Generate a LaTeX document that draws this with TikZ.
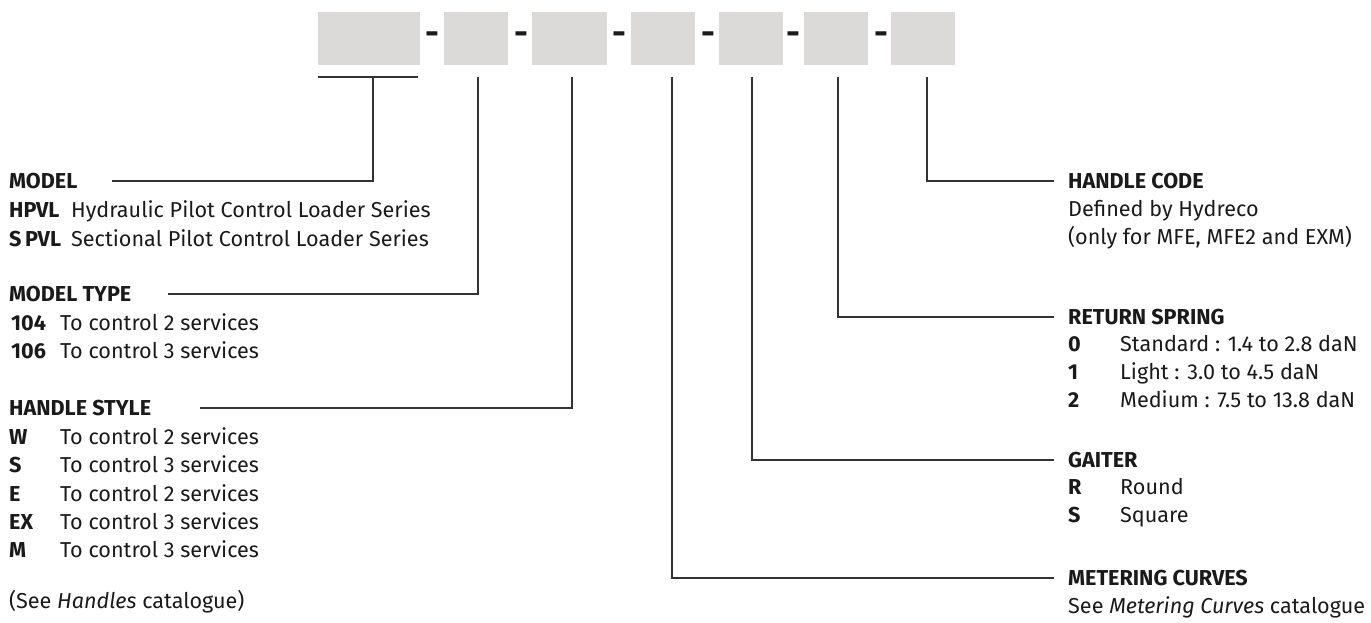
\documentclass[tikz,border=0pt]{standalone}
\usepackage{fontspec}
\setmainfont{Fira Sans}
\definecolor{boxgray}{HTML}{DBDAD8}
\definecolor{txt}{HTML}{1A1A1A}
\definecolor{ln}{HTML}{333333}
\begin{document}
\begin{tikzpicture}[x=1pt,y=-1pt,
  codebox/.style={fill=boxgray,draw=none,inner sep=0,anchor=north west,minimum height=53},
  sep/.style={inner sep=0,anchor=center,text=txt,font=\fontsize{34}{34}\selectfont\bfseries},
  hd/.style={inner sep=0,anchor=base west,text=txt,font=\fontsize{21.6}{24}\selectfont\bfseries},
  key/.style={inner sep=0,anchor=base west,text=txt,font=\fontsize{21.6}{24}\selectfont\bfseries},
  desc/.style={inner sep=0,anchor=base west,text=txt,font=\fontsize{21.6}{24}\selectfont},
  conn/.style={draw=ln,line width=1.2pt}]
\useasboundingbox (0,0) rectangle (1371,623);
% code boxes
\node[codebox,minimum width=102] (b1) at (318,12) {};
\node[codebox,minimum width=64] (b2) at (444,12) {};
\node[codebox,minimum width=75] (b3) at (532,12) {};
\node[codebox,minimum width=64] (b4) at (631,12) {};
\node[codebox,minimum width=64] (b5) at (719,12) {};
\node[codebox,minimum width=64] (b6) at (804,12) {};
\node[codebox,minimum width=64] (b7) at (891,12) {};
\node[sep] (d1) at (432,38.5) {-};
\node[sep] (d2) at (521,38.5) {-};
\node[sep] (d3) at (619.5,38.5) {-};
\node[sep] (d4) at (708,38.5) {-};
\node[sep] (d5) at (793,38.5) {-};
\node[sep] (d6) at (881,38.5) {-};
% left labels
\node[hd] (model) at (9,188.5) {MODEL};
\node[key] (hpvl) at (9,217.5) {HPVL};
\node[desc] (hpvlt) at (71,217.5) {Hydraulic Pilot Control Loader Series};
\node[key] (spvl) at (9,246.5) {S\,PVL};
\node[desc] (spvlt) at (71,246.5) {Sectional Pilot Control Loader Series};
\node[hd] (mtype) at (9,301.5) {MODEL TYPE};
\node[key] (k104) at (11,330.5) {104};
\node[desc] (t104) at (60,330.5) {To control 2 services};
\node[key] (k106) at (11,358.5) {106};
\node[desc] (t106) at (60,358.5) {To control 3 services};
\node[hd] (hstyle) at (9,415.5) {HANDLE STYLE};
\node[key] (kw) at (9,444.5) {W};
\node[desc] (tw) at (60,444.5) {To control 2 services};
\node[key] (ks) at (9,472.5) {S};
\node[desc] (ts) at (60,472.5) {To control 3 services};
\node[key] (ke) at (9,501.5) {E};
\node[desc] (te) at (60,501.5) {To control 2 services};
\node[key] (kex) at (9,529.5) {EX};
\node[desc] (tex) at (60,529.5) {To control 3 services};
\node[key] (km) at (9,557.5) {M};
\node[desc] (tm) at (60,557.5) {To control 3 services};
\node[desc] (seeh) at (9,608.5) {(See \textit{Handles} catalogue)};
% right labels
\node[hd] (hcode) at (1068,188.5) {HANDLE CODE};
\node[desc] (hc1) at (1068,216.5) {Defined by Hydreco};
\node[desc] (hc2) at (1068,244.5) {(only for MFE, MFE2 and EXM)};
\node[hd] (rspring) at (1068,324) {RETURN SPRING};
\node[key] (k0) at (1068,351) {0};
\node[desc] (t0) at (1120,351) {Standard : 1.4 to 2.8 daN};
\node[key] (k1) at (1068,379) {1};
\node[desc] (t1) at (1120,379) {Light : 3.0 to 4.5 daN};
\node[key] (k2) at (1068,407) {2};
\node[desc] (t2) at (1120,407) {Medium : 7.5 to 13.8 daN};
\node[hd] (gaiter) at (1068,467.5) {GAITER};
\node[key] (kr) at (1068,494.5) {R};
\node[desc] (tr) at (1120,494.5) {Round};
\node[key] (ksq) at (1068,522.5) {S};
\node[desc] (tsq) at (1120,522.5) {Square};
\node[hd] (meter) at (1068,585.5) {METERING CURVES};
\node[desc] (seem) at (1068,613) {See \textit{Metering Curves} catalogue};
% connector coordinates
\coordinate (u1) at (318,77);
\coordinate (u2) at (418,77);
\coordinate (s1) at (373,77);
\coordinate (s2) at (478,77);
\coordinate (s3) at (572,77);
\coordinate (s4) at (672,77);
\coordinate (s5) at (752,77);
\coordinate (s6) at (838,77);
\coordinate (s7) at (927,77);
\coordinate (e1) at (112,181);
\coordinate (e2) at (168,294);
\coordinate (e3) at (200,408);
\coordinate (e4) at (1054,578);
\coordinate (e5) at (1054,460);
\coordinate (e6) at (1054,317);
\coordinate (e7) at (1054,181);
% connectors
\draw[conn] (u1) -- (u2);
\draw[conn] (s1) |- (e1);
\draw[conn] (s2) |- (e2);
\draw[conn] (s3) |- (e3);
\draw[conn] (s4) |- (e4);
\draw[conn] (s5) |- (e5);
\draw[conn] (s6) |- (e6);
\draw[conn] (s7) |- (e7);
\end{tikzpicture}
\end{document}
